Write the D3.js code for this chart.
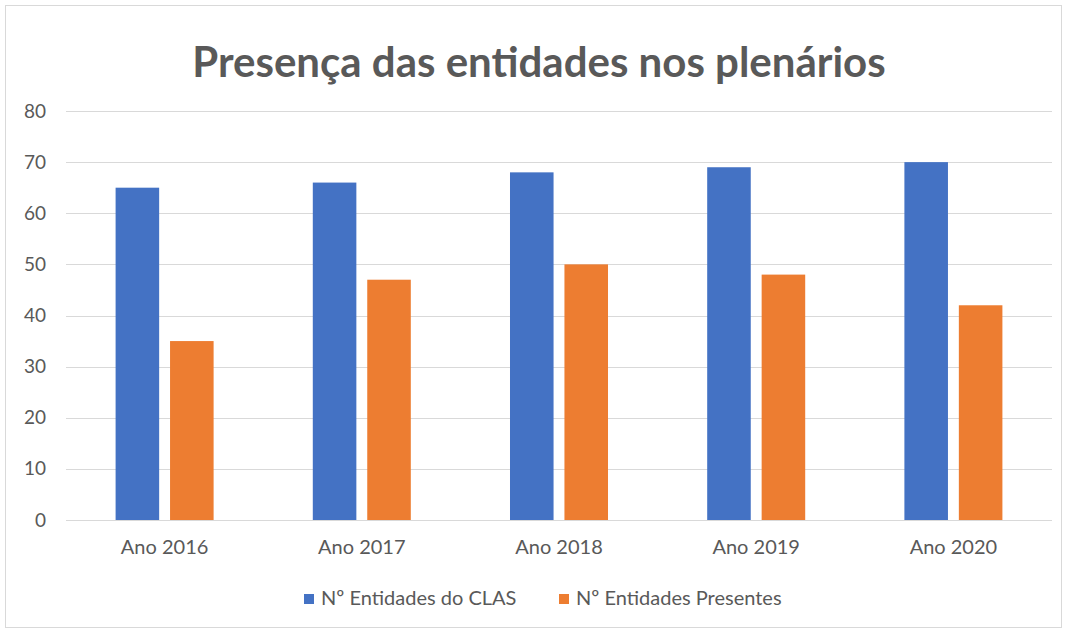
<!DOCTYPE html>
<html>
<head>
<meta charset="utf-8">
<script src="https://cdn.jsdelivr.net/npm/d3@7"></script>
<style>
  body { margin: 0; background: #fff; }
  text { font-family: Lato, "Open Sans", sans-serif; fill: #595959; }
</style>
</head>
<body>
<script>
var categories = ["Ano 2016", "Ano 2017", "Ano 2018", "Ano 2019", "Ano 2020"];
var seriesNames = ["Nº Entidades do CLAS", "Nº Entidades Presentes"];
var clasValues = [65, 66, 68, 69, 70];
var presentValues = [35, 47, 50, 48, 42];
var yTicks = [0, 10, 20, 30, 40, 50, 60, 70, 80];
var colors = ["#4472c4", "#ed7d31"];

var width = 1068, height = 635;
var plotLeft = 66, plotRight = 1052, plotTop = 111, plotBottom = 520;

var svg = d3.select("body").append("svg")
    .attr("width", width)
    .attr("height", height);

svg.append("rect")
    .attr("x", 5.5).attr("y", 5.5)
    .attr("width", 1056).attr("height", 622)
    .attr("fill", "#fff")
    .attr("stroke", "#d9d9d9");

var data = categories.map(function(c, i) {
    return { cat: c, values: [clasValues[i], presentValues[i]] };
});

var x = d3.scaleBand().domain(categories).range([plotLeft, plotRight]).paddingInner(0.503).paddingOuter(0.2515);
var xs = d3.scaleBand().domain([0, 1]).range([0, x.bandwidth()]).paddingInner(0.2);
var y = d3.scaleLinear().domain([0, 80]).range([plotBottom, plotTop]);

// gridlines
svg.append("g").selectAll("line")
    .data(yTicks)
    .enter().append("line")
    .attr("x1", plotLeft).attr("x2", plotRight)
    .attr("y1", function(d) { return Math.round(y(d)) + 0.5; })
    .attr("y2", function(d) { return Math.round(y(d)) + 0.5; })
    .attr("stroke", "#d9d9d9")
    .attr("stroke-width", 1);

// y axis labels
var yAxis = svg.append("g")
    .attr("transform", "translate(46,0)")
    .call(d3.axisLeft(y).tickValues(yTicks).tickSize(0).tickPadding(0));
yAxis.select(".domain").remove();
yAxis.selectAll("text").style("font-size", "19px").attr("fill", "#595959");

// x axis labels
var xAxis = svg.append("g")
    .attr("transform", "translate(0," + plotBottom + ")")
    .call(d3.axisBottom(x).tickSize(0).tickPadding(20));
xAxis.select(".domain").remove();
xAxis.selectAll("text").style("font-size", "20px").attr("fill", "#595959");

// bars
var groups = svg.append("g").selectAll("g")
    .data(data)
    .enter().append("g")
    .attr("transform", function(d) { return "translate(" + x(d.cat) + ",0)"; });

groups.selectAll("rect")
    .data(function(d) { return d.values; })
    .enter().append("rect")
    .attr("x", function(d, i) { return xs(i); })
    .attr("y", function(d) { return y(d); })
    .attr("width", xs.bandwidth())
    .attr("height", function(d) { return y(0) - y(d); })
    .attr("fill", function(d, i) { return colors[i]; });

// title
svg.append("text")
    .attr("x", 539)
    .attr("y", 77)
    .attr("text-anchor", "middle")
    .style("font-size", "42px")
    .style("font-weight", "bold")
    .text("Presença das entidades nos plenários");

// legend
var legendX = [304, 559];
var legend = svg.append("g").selectAll("g")
    .data(seriesNames)
    .enter().append("g")
    .attr("transform", function(d, i) { return "translate(" + legendX[i] + ",594)"; });

legend.append("rect")
    .attr("width", 10).attr("height", 10)
    .attr("fill", function(d, i) { return colors[i]; });

legend.append("text")
    .attr("x", 17)
    .attr("y", 11)
    .style("font-size", "20px")
    .text(function(d) { return d; });
</script>
</body>
</html>
